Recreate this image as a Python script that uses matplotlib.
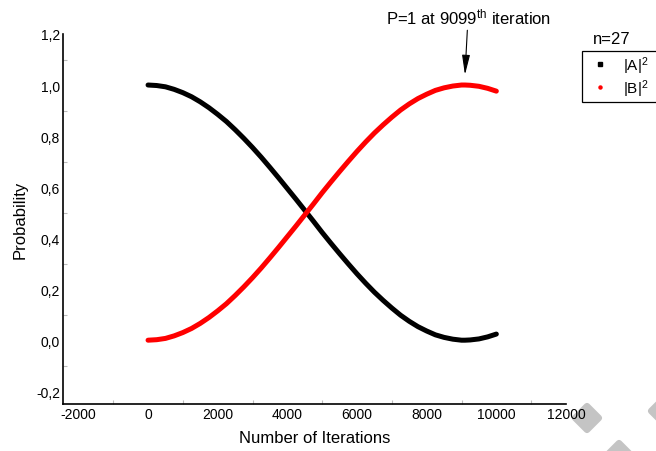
import numpy as np
import matplotlib
matplotlib.use("Agg")
import matplotlib.pyplot as plt
from matplotlib.lines import Line2D
from matplotlib.patches import Polygon
from matplotlib.ticker import FuncFormatter, MultipleLocator
from matplotlib.transforms import IdentityTransform

plt.rcParams['font.family'] = ['Liberation Sans', 'DejaVu Sans']
plt.rcParams['mathtext.fontset'] = 'custom'
plt.rcParams['mathtext.rm'] = 'Liberation Sans'
plt.rcParams['mathtext.it'] = 'Liberation Sans:italic'

# probabilities sampled every 250 iterations, n=27
iterations = [0, 250, 500, 750, 1000, 1250, 1500, 1750, 2000, 2250, 2500, 2750,
              3000, 3250, 3500, 3750, 4000, 4250, 4500, 4750, 5000, 5250, 5500,
              5750, 6000, 6250, 6500, 6750, 7000, 7250, 7500, 7750, 8000, 8250,
              8500, 8750, 9000, 9099, 9250, 9500, 9750, 10000]
prob_b = [0.000, 0.002, 0.007, 0.017, 0.030, 0.046, 0.066, 0.089, 0.115, 0.143, 0.175, 0.209,
          0.245, 0.283, 0.323, 0.364, 0.406, 0.448, 0.491, 0.534, 0.578, 0.620, 0.661,
          0.701, 0.740, 0.777, 0.812, 0.844, 0.874, 0.902, 0.926, 0.947, 0.964, 0.979,
          0.989, 0.996, 1.000, 1.000, 0.999, 0.995, 0.987, 0.976]
prob_a = [1.000, 0.998, 0.993, 0.983, 0.970, 0.954, 0.934, 0.911, 0.885, 0.857, 0.825, 0.791,
          0.755, 0.717, 0.677, 0.636, 0.594, 0.552, 0.509, 0.466, 0.422, 0.380, 0.339,
          0.299, 0.260, 0.223, 0.188, 0.156, 0.126, 0.098, 0.074, 0.053, 0.036, 0.021,
          0.011, 0.004, 0.000, 0.000, 0.001, 0.005, 0.013, 0.024]
peak_iter = 9099

fig = plt.figure(figsize=(6.56, 4.52), dpi=100)
ax = fig.add_axes([0.0956, 0.104, 0.7672, 0.8186])

ax.plot(iterations, prob_a, color='black', lw=3.6, solid_capstyle='round', solid_joinstyle='round')
ax.plot(iterations, prob_b, color='red', lw=3.6, solid_capstyle='round', solid_joinstyle='round')

ax.set_xlim(-2450, 12000)
ax.set_ylim(-0.25, 1.2)
ax.set_xticks(np.arange(-2000, 12001, 2000))
ax.set_yticks(np.arange(-0.2, 1.21, 0.2))
ax.xaxis.set_minor_locator(MultipleLocator(1000))
ax.yaxis.set_minor_locator(MultipleLocator(0.1))
ax.xaxis.set_major_formatter(FuncFormatter(lambda v, p: str(int(round(v)))))
ax.yaxis.set_major_formatter(FuncFormatter(lambda v, p: f"{v:.1f}".replace('.', ',')))
ax.tick_params(which='major', length=0, labelsize=10, pad=2)
ax.tick_params(which='minor', direction='in', length=3, width=0.8, color='#bbbbbb')

for side in ['top', 'right']:
    ax.spines[side].set_visible(False)
for side in ['left', 'bottom']:
    ax.spines[side].set_linewidth(1.2)

ax.set_xlabel("Number of Iterations", fontsize=12, labelpad=7)
ax.set_ylabel("Probability", fontsize=12, labelpad=6)

ax.annotate(r"P=1 at 9099$^{\mathrm{th}}$ iteration", xy=(peak_iter, 1.04), xytext=(peak_iter + 90, 1.27),
            ha='center', va='center', fontsize=12, annotation_clip=False,
            arrowprops=dict(arrowstyle='-|>,head_length=1.0,head_width=0.2', color='black',
                            lw=0.8, mutation_scale=12, shrinkA=1, shrinkB=0))

handles = [Line2D([], [], ls='none', marker='s', color='black', markersize=2.2),
           Line2D([], [], ls='none', marker='o', color='red', markersize=2.2)]
leg = fig.legend(handles, ["|A|$^2$   ", "|B|$^2$   "], loc='upper left',
                 bbox_to_anchor=(582 / 656, 1 - 52 / 452), fontsize=11,
                 frameon=True, fancybox=False, framealpha=1, edgecolor='black',
                 handlelength=2.0, handletextpad=0.5, borderpad=0.2, labelspacing=0.1,
                 borderaxespad=0)
leg.get_frame().set_linewidth(0.9)
fig.text(612 / 656, 1 - 40 / 452, "n=27", ha='center', va='center', fontsize=12)

# grey diamond marks in the lower right corner
for cx, cy in [(587, 419), (663, 412), (619, 456)]:
    h = 12
    pts = [(cx, 452 - cy + h), (cx + h, 452 - cy), (cx, 452 - cy - h), (cx - h, 452 - cy)]
    fig.patches.append(Polygon(pts, closed=True, facecolor='#c4c4c4', edgecolor='#c4c4c4',
                               lw=4.5, joinstyle='round', transform=IdentityTransform(),
                               zorder=-1, figure=fig))

fig.savefig("out.png", dpi=100)
